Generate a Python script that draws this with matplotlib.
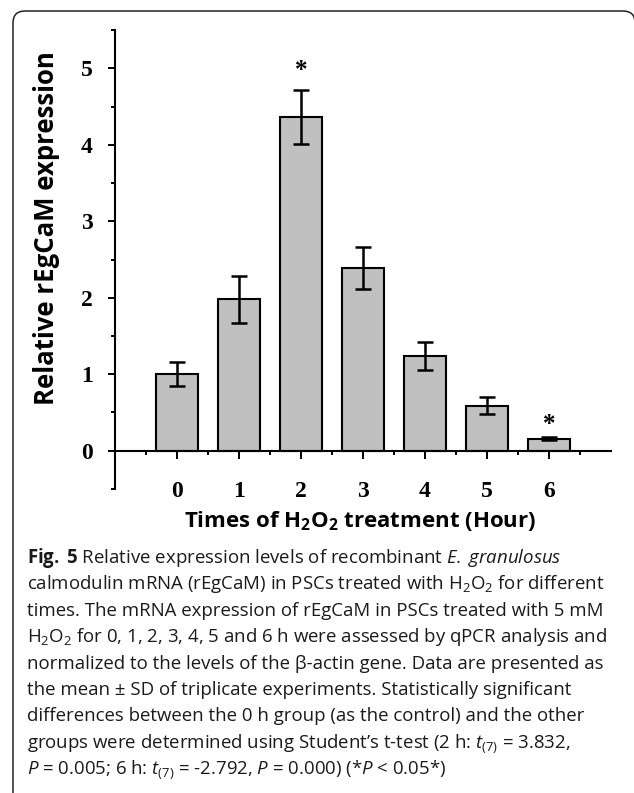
import matplotlib
matplotlib.use("Agg")
import matplotlib.pyplot as plt
from matplotlib.patches import FancyBboxPatch
from matplotlib.transforms import IdentityTransform
from matplotlib.ticker import FixedLocator

# ---- data ----
hours = [0, 1, 2, 3, 4, 5, 6]
expression = [1.00, 1.98, 4.36, 2.39, 1.24, 0.59, 0.155]
sd = [0.16, 0.31, 0.35, 0.27, 0.185, 0.11, 0.02]
significant = [2, 6]
ylabel = "Relative rEgCaM expression"
xlabel = r"Times of H$_\mathbf{2}$O$_\mathbf{2}$ treatment (Hour)"
caption_lines = [
    r"$\mathbf{Fig.\;5}$ Relative expression levels of recombinant $\mathit{E.}$ $\mathit{granulosus}$",
    r"calmodulin mRNA (rEgCaM) in PSCs treated with H$_2$O$_2$ for different",
    r"times. The mRNA expression of rEgCaM in PSCs treated with 5 mM",
    r"H$_2$O$_2$ for 0, 1, 2, 3, 4, 5 and 6 h were assessed by qPCR analysis and",
    r"normalized to the levels of the β-actin gene. Data are presented as",
    r"the mean ± SD of triplicate experiments. Statistically significant",
    r"differences between the 0 h group (as the control) and the other",
    r"groups were determined using Student’s t-test (2 h: $t_{(7)}$ = 3.832,",
    r"$P$ = 0.005; 6 h: $t_{(7)}$ = -2.792, $P$ = 0.000) (*$P$ < 0.05*)",
]

plt.rcParams['mathtext.fontset'] = 'custom'
plt.rcParams['mathtext.rm'] = 'Open Sans'
plt.rcParams['mathtext.it'] = 'Open Sans:italic'
plt.rcParams['mathtext.bf'] = 'Open Sans:bold'

W, H = 634, 793
fig = plt.figure(figsize=(W / 100, H / 100), dpi=100)

ax = fig.add_axes([115 / W, 1 - 489 / H, (611 - 115) / W, (489 - 30) / H])
ax.bar(hours, expression, width=0.68, color='#c0c0c0', edgecolor='black',
       linewidth=1.5, zorder=2)
ax.errorbar(hours, expression, yerr=sd, fmt='none', ecolor='black',
            elinewidth=1.8, capsize=5.5, capthick=1.8, zorder=3)
for i in significant:
    ax.text(hours[i], expression[i] + sd[i] + (0.17 if i == 2 else 0.08), '*',
            ha='center', va='baseline', fontsize=18, fontweight='bold',
            family='Liberation Serif')

ax.set_xlim(-1, 7)
ax.set_ylim(-0.5, 5.5)
ax.spines['top'].set_visible(False)
ax.spines['right'].set_visible(False)
ax.spines['bottom'].set_position(('data', 0))
for s in ('left', 'bottom'):
    ax.spines[s].set_linewidth(1.5)

ax.xaxis.set_major_locator(FixedLocator(hours))
ax.xaxis.set_minor_locator(FixedLocator([h - 0.5 for h in hours] + [6.5]))
ax.yaxis.set_major_locator(FixedLocator([0, 1, 2, 3, 4, 5]))
ax.yaxis.set_minor_locator(FixedLocator([-0.5, 0.5, 1.5, 2.5, 3.5, 4.5, 5.5]))
ax.set_xticklabels([str(h) for h in hours])
ax.tick_params(axis='x', which='major', direction='out', length=6, width=1.4, pad=16)
ax.tick_params(axis='x', which='minor', direction='out', length=3, width=1.4)
ax.tick_params(axis='y', which='major', direction='out', length=5, width=1.4, pad=11)
ax.tick_params(axis='y', which='minor', direction='out', length=3, width=1.4)
for lab in ax.get_xticklabels() + ax.get_yticklabels():
    lab.set_fontfamily('Liberation Serif')
    lab.set_fontweight('bold')
    lab.set_fontsize(17)

fig.text(46 / W, 1 - 228 / H, ylabel, rotation=90, ha='center', va='center',
         family='Open Sans', fontweight='bold', fontsize=18.5)
fig.text(360 / W, 1 - 521 / H, xlabel, ha='center', va='center',
         family='Open Sans', fontweight='bold', fontsize=16)

y0 = 563
for k, line in enumerate(caption_lines):
    fig.text(27 / W, 1 - (y0 + 26.4 * k) / H, line, ha='left', va='baseline',
             family='Open Sans', fontsize=13.4, color='#1a1a1a')

frame = FancyBboxPatch((13, -30), 622, H - 11 + 30,
                       boxstyle="round,pad=0,rounding_size=12",
                       transform=IdentityTransform(), fill=False,
                       edgecolor='#222222', linewidth=1.1)
fig.patches.append(frame)

fig.savefig('out.png', dpi=100)
